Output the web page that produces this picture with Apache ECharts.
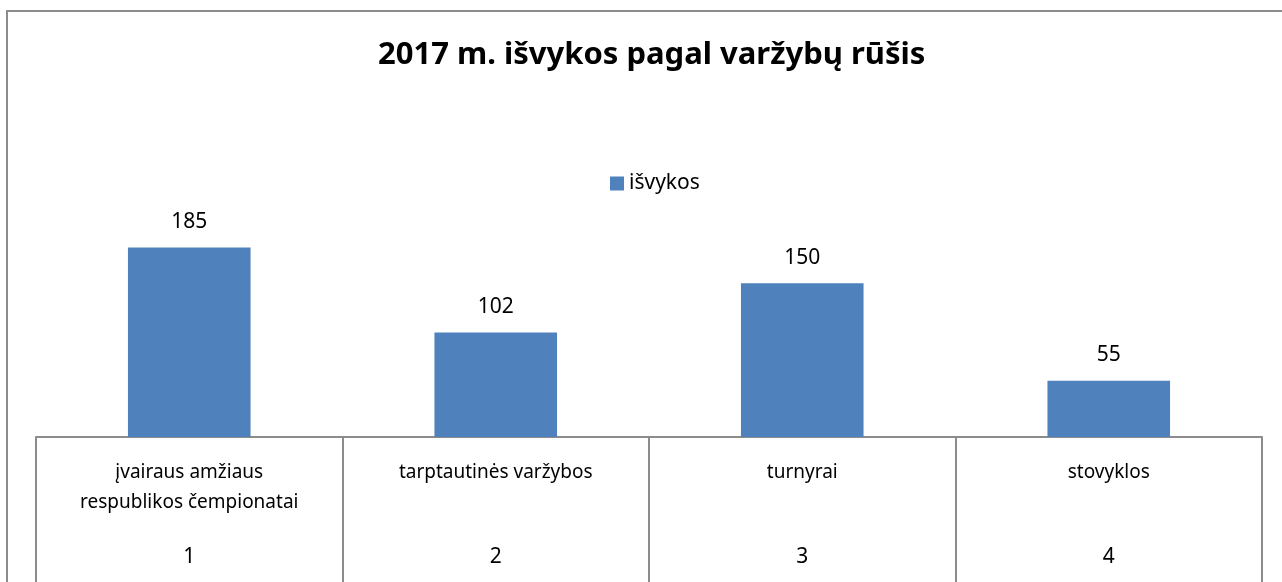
<!DOCTYPE html>
<html lang="lt">
<head>
<meta charset="UTF-8">
<script src="https://cdn.jsdelivr.net/npm/echarts@6.0.0/dist/echarts.min.js"></script>
<title>2017 m. išvykos</title>
<style>
  body { margin: 0; padding: 0; background: #fff; overflow: hidden; }
  #chart { width: 1282px; height: 582px; }
</style>
</head>
<body>
<div id="chart"></div>
<script>
  // duomenys
  const categories = ['įvairaus amžiaus\nrespublikos čempionatai', 'tarptautinės varžybos', 'turnyrai', 'stovyklos'];
  const catNumbers = ['1', '2', '3', '4'];
  const isvykos = [185, 102, 150, 55];

  const font = '"Noto Sans", "DejaVu Sans", sans-serif';
  const chart = echarts.init(document.getElementById('chart'));

  const option = {
    animation: false,
    textStyle: { fontFamily: font },
    title: {
      text: '2017 m. išvykos pagal varžybų rūšis',
      left: 373,
      top: 35,
      textStyle: { fontSize: 31, fontWeight: 'bold', color: '#000', fontFamily: font }
    },
    legend: {
      data: ['išvykos'],
      top: 168,
      left: 605,
      icon: 'rect',
      itemWidth: 14,
      itemHeight: 14,
      itemGap: 6,
      textStyle: { fontSize: 21, color: '#000', fontFamily: font }
    },
    grid: { left: 36, right: 20, top: 232, bottom: 145 },
    xAxis: [
      {
        type: 'category',
        data: categories,
        axisLine: { lineStyle: { color: '#8c8c8c', width: 2 } },
        axisTick: { show: true, length: 150, lineStyle: { color: '#8c8c8c', width: 2 } },
        axisLabel: {
          margin: 21,
          fontSize: 19,
          lineHeight: 30,
          color: '#000',
          interval: 0,
          fontFamily: font
        }
      },
      {
        type: 'category',
        position: 'bottom',
        data: catNumbers,
        axisLine: { show: false },
        axisTick: { show: false },
        axisLabel: {
          margin: 105,
          fontSize: 21,
          lineHeight: 30,
          color: '#000',
          fontFamily: font
        }
      }
    ],
    yAxis: {
      type: 'value',
      min: 0,
      max: 200,
      show: false,
      splitLine: { show: false }
    },
    series: [
      {
        name: 'išvykos',
        type: 'bar',
        data: isvykos,
        barWidth: '40%',
        itemStyle: { color: '#4F81BD' },
        label: {
          show: true,
          position: 'top',
          distance: 15,
          fontSize: 21,
          color: '#000',
          fontFamily: font
        }
      }
    ],
    graphic: [
      {
        type: 'rect',
        shape: { x: 7, y: 11, width: 1400, height: 700 },
        style: { fill: null, stroke: '#8c8c8c', lineWidth: 2 },
        silent: true
      }
    ]
  };

  chart.setOption(option);
</script>
</body>
</html>
